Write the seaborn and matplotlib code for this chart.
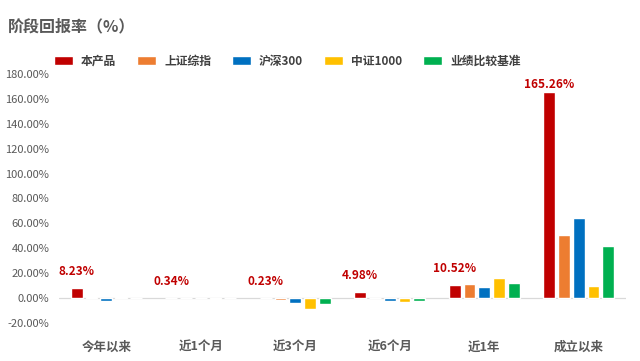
import matplotlib

matplotlib.use("Agg")

import matplotlib.pyplot as plt  # noqa: E402
import pandas as pd  # noqa: E402
import seaborn as sns  # noqa: E402
from matplotlib.ticker import FuncFormatter  # noqa: E402

periods = ["今年以来", "近1个月", "近3个月", "近6个月", "近1年", "成立以来"]
series_names = ["本产品", "上证综指", "沪深300", "中证1000", "业绩比较基准"]
fund = [8.23, 0.34, 0.23, 4.98, 10.52, 165.26]
sse = [1.1, 0.0, -1.2, 0.0, 11.2, 50.4]
csi300 = [-2.0, 0.0, -3.6, -2.0, 8.8, 64.0]
csi1000 = [1.1, -0.9, -8.6, -3.0, 16.0, 9.6]
benchmark = [0.3, 0.0, -4.5, -2.0, 12.0, 41.6]
y_ticks = [-20, 0, 20, 40, 60, 80, 100, 120, 140, 160, 180]

colors = ["#C00000", "#ED7D31", "#0070C0", "#FFC000", "#00B050"]

rows = []
for name, vals in zip(series_names, [fund, sse, csi300, csi1000, benchmark]):
    for p, v in zip(periods, vals):
        rows.append({"period": p, "series": name, "value": v})
df = pd.DataFrame(rows)

sns.set_style("white")
plt.rcParams["font.family"] = ["Noto Sans CJK SC", "DejaVu Sans"]

fig = plt.figure(figsize=(6.4, 3.61), dpi=100)
ax = fig.add_axes([59 / 640, 1 - 323 / 361, 567 / 640, 249 / 361])

bar_width = 0.78
sns.barplot(
    data=df, x="period", y="value", hue="series", order=periods,
    hue_order=series_names, palette=colors, width=bar_width, gap=0.2,
    saturation=1, ax=ax,
)
handles, labels = ax.get_legend_handles_labels()
ax.get_legend().remove()

ax.set_ylim(-20, 180)
ax.set_xlim(-0.5, 5.5)
ax.set_yticks(y_ticks)
ax.yaxis.set_major_formatter(FuncFormatter(lambda v, _: f"{v:.2f}%"))
ax.axhline(0, color="#d9d9d9", lw=0.9, zorder=0)
sns.despine(ax=ax, left=True, bottom=True)
ax.set_xlabel("")
ax.set_ylabel("")
ax.tick_params(axis="y", length=0, labelsize=8, labelcolor="#595959", pad=7)
ax.tick_params(axis="x", length=0, labelsize=9, labelcolor="#595959", pad=13)
for t in ax.get_xticklabels():
    t.set_fontweight("bold")

# data labels above the fund bars (kept inside the plot area, like Excel)
for i, v in enumerate(fund):
    xpos = i - bar_width / 2 + bar_width / 10
    ypos = min(max(v, 0) + 13, 171.5)
    ax.text(xpos, ypos, f"{v:.2f}%", ha="center", va="center",
            color="#C00000", fontsize=8.5, fontweight="bold")

fig.text(8 / 640, 1 - 26 / 361, "阶段回报率（%）", fontsize=11.5,
         fontweight="bold", color="#595959", va="center", ha="left")

fig.legend(handles, labels, loc="center left",
           bbox_to_anchor=(54 / 640, 1 - 61 / 361), ncol=5, frameon=False,
           borderpad=0, borderaxespad=0, handlelength=1.6, handleheight=0.7,
           handletextpad=0.7, columnspacing=1.75,
           prop={"size": 8.5, "weight": "bold"}, labelcolor="#404040")

fig.savefig("out.png", dpi=100)
